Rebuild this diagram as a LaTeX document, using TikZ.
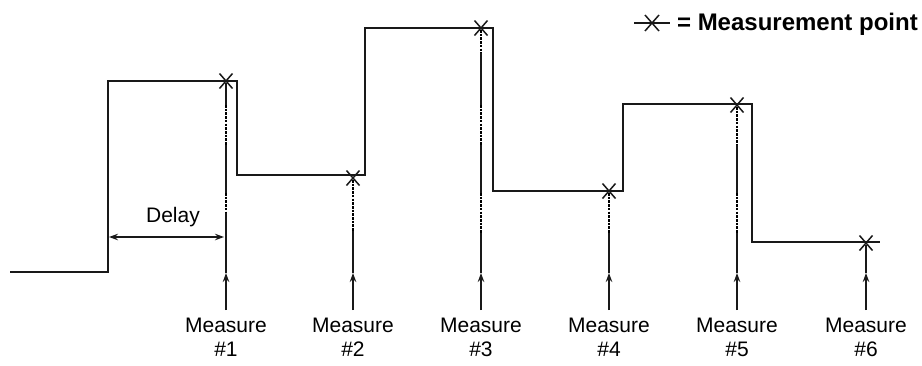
\documentclass[tikz,border=0pt]{standalone}
\usepackage{fontspec}
\setmainfont{Liberation Sans}
\usetikzlibrary{arrows.meta,calc}
\begin{document}
\begin{tikzpicture}[x=1pt,y=-1pt,
  signal/.style={line width=1.5pt,black!90},
  vsolid/.style={line width=1.2pt,black!90},
  vdot/.style={line width=1.3pt,black,dash pattern=on 2.6pt off 1.1pt},
  upar/.style={line width=1.2pt,black!90,-{Stealth[length=9pt,width=6.5pt]}},
  mlabel/.style={font=\fontsize{21}{24}\selectfont,align=center,inner sep=0pt,anchor=north},
  xmark/.style={line width=1.5pt,black!90}]
\useasboundingbox (0,0) rectangle (922,365);
% signal
\coordinate (s0) at (10,272);
\coordinate (s1) at (108,272);
\coordinate (s2) at (108,81);
\coordinate (s3) at (237,81);
\coordinate (s4) at (237,175);
\coordinate (s5) at (365,175);
\coordinate (s6) at (365,28);
\coordinate (s7) at (493,28);
\coordinate (s8) at (493,191);
\coordinate (s9) at (623,191);
\coordinate (s10) at (623,104);
\coordinate (s11) at (752,104);
\coordinate (s12) at (752,242);
\coordinate (s13) at (880,242);
\draw[signal] (s0)--(s1)--(s2)--(s3)--(s4)--(s5)--(s6)--(s7)--(s8)--(s9)--(s10)--(s11)--(s12)--(s13);
% crosses
\foreach \n/\x/\y in {1/226/81,2/353/178,3/481/28,4/609/191,5/737/105,6/866/243}{
  \coordinate (c\n) at (\x,\y);
  \draw[xmark] ($(c\n)+(-6.5,-7.5)$) -- ($(c\n)+(6.5,7.5)$) ($(c\n)+(6.5,-7.5)$) -- ($(c\n)+(-6.5,7.5)$);
}
% vertical guides
\draw[vsolid] (226,83)--(226,105);
\draw[vdot] (226,105)--(226,145);
\draw[vsolid] (226,145)--(226,193);
\draw[vdot] (226,193)--(226,213);
\draw[line width=2.8pt,black!90] (226,213)--(226,261);
\draw[vsolid] (226,261)--(226,273);

\draw[vdot] (353,180)--(353,231);
\draw[vsolid] (353,231)--(353,273);

\draw[vdot] (481,30)--(481,53);
\draw[vsolid] (481,53)--(481,105);
\draw[vdot] (481,105)--(481,145);
\draw[vsolid] (481,145)--(481,193);
\draw[vdot] (481,193)--(481,233);
\draw[vsolid] (481,233)--(481,273);

\draw[vdot] (609,193)--(609,233);
\draw[vsolid] (609,233)--(609,273);

\draw[vdot] (737,107)--(737,145);
\draw[vsolid] (737,145)--(737,193);
\draw[vdot] (737,193)--(737,233);
\draw[vsolid] (737,233)--(737,273);

\draw[vsolid] (866,245)--(866,273);
% arrows and labels
\foreach \n/\x in {1/226,2/353,3/481,4/609,5/737,6/866}{
  \coordinate (a\n) at (\x,310);
  \coordinate (t\n) at (\x,273);
  \draw[upar] (a\n) -- (t\n);
  \node[mlabel] (m\n) at (\x,318) {Measure\\\#\n};
}
% delay
\coordinate (d1) at (109,237);
\coordinate (d2) at (224,237);
\draw[line width=1.2pt,black!90,{Stealth[length=9pt,width=6.5pt]}-{Stealth[length=9pt,width=6.5pt]}] (d1) -- (d2);
\node[font=\fontsize{21}{24}\selectfont,inner sep=0pt] (delay) at (173,217) {Delay};
% legend
\node[font=\bfseries\fontsize{24}{26}\selectfont,anchor=east,inner sep=0pt] (leg) at (918,24) {= Measurement point};
\coordinate (l1) at (634,23);
\coordinate (l2) at (670,23);
\draw[line width=1.2pt,black!90] (l1) -- (l2);
\coordinate (lc) at ($(l1)!0.5!(l2)$);
\draw[xmark] ($(lc)+(-7,-8)$) -- ($(lc)+(7,8)$) ($(lc)+(7,-8)$) -- ($(lc)+(-7,8)$);
\end{tikzpicture}
\end{document}
